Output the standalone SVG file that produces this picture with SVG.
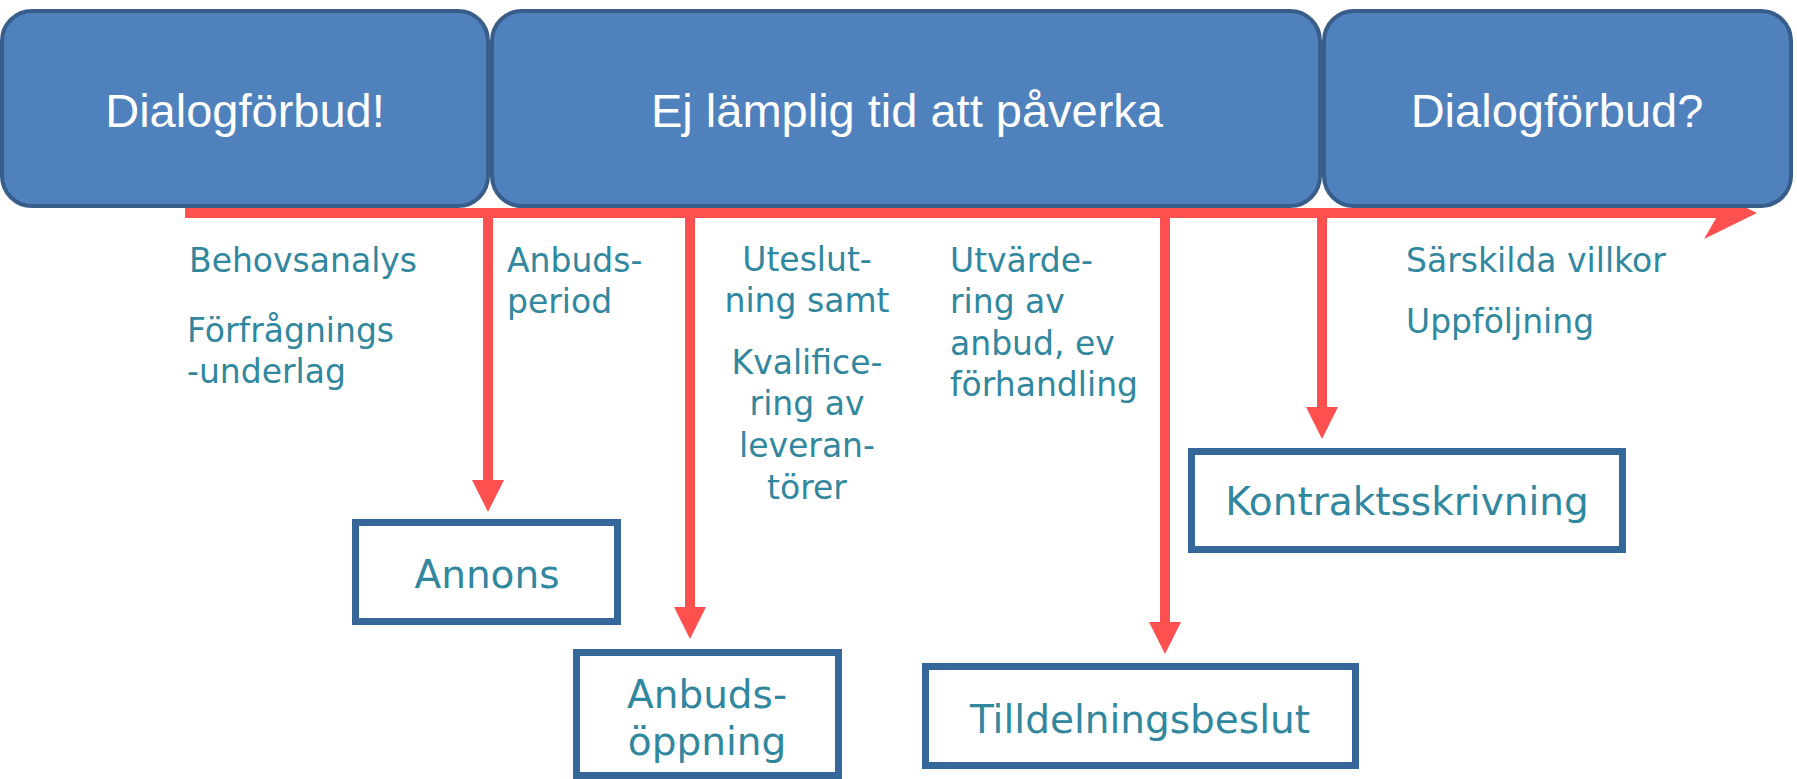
<svg xmlns="http://www.w3.org/2000/svg" width="1797" height="779" viewBox="0 0 1797 779">
  <style>
    .phase { fill: #4f81bd; stroke: #385d8a; stroke-width: 4; }
    .phase-text { font-family: "Liberation Sans", Arial, sans-serif; font-size: 47px; fill: #ffffff; text-anchor: middle; }
    .box { fill: #ffffff; stroke: #35679a; stroke-width: 7; }
    .box-text { font-family: "DejaVu Sans", Verdana, sans-serif; font-size: 39px; fill: #31879e; text-anchor: middle; }
    .note { font-family: "DejaVu Sans", Verdana, sans-serif; font-size: 33px; fill: #31879e; }
    .mid { text-anchor: middle; }
    .red { stroke: #ff5050; stroke-width: 10; fill: none; }
    .head { fill: #ff5050; }
  </style>
  <defs>
    <marker id="ah" viewBox="0 0 32 32" refX="0" refY="16" markerWidth="32" markerHeight="32" markerUnits="userSpaceOnUse" orient="auto">
      <polygon points="0,0 32,16 0,32" class="head"/>
    </marker>
  </defs>

  <g id="connectors">
    <line class="red" x1="185" y1="213" x2="1720" y2="213"/>
    <polygon class="head" points="1757,213 1704,239 1719,213 1704,187"/>
    <line class="red" x1="488" y1="208" x2="488" y2="480" marker-end="url(#ah)"/>
    <line class="red" x1="690" y1="208" x2="690" y2="607" marker-end="url(#ah)"/>
    <line class="red" x1="1165" y1="208" x2="1165" y2="622" marker-end="url(#ah)"/>
    <line class="red" x1="1322" y1="208" x2="1322" y2="407" marker-end="url(#ah)"/>
  </g>

  <g id="phase1">
    <rect class="phase" x="2" y="11" width="486" height="195" rx="30" ry="30"/>
    <text class="phase-text" x="245" y="127">Dialogförbud!</text>
  </g>
  <g id="phase2">
    <rect class="phase" x="492" y="11" width="828" height="195" rx="30" ry="30"/>
    <text class="phase-text" x="907" y="127">Ej lämplig tid att påverka</text>
  </g>
  <g id="phase3">
    <rect class="phase" x="1324" y="11" width="467" height="195" rx="30" ry="30"/>
    <text class="phase-text" x="1557" y="127">Dialogförbud?</text>
  </g>

  <g id="notes1">
    <text class="note" x="189" y="272">Behovsanalys</text>
    <text class="note" x="187" y="342">Förfrågnings</text>
    <text class="note" x="187" y="383">-underlag</text>
  </g>
  <g id="notes2">
    <text class="note" x="507" y="272">Anbuds-</text>
    <text class="note" x="507" y="313">period</text>
  </g>
  <g id="notes3">
    <text class="note mid" x="807" y="271">Uteslut-</text>
    <text class="note mid" x="807" y="312">ning samt</text>
    <text class="note mid" x="807" y="374">Kvalifice-</text>
    <text class="note mid" x="807" y="415">ring av</text>
    <text class="note mid" x="807" y="457">leveran-</text>
    <text class="note mid" x="807" y="499">törer</text>
  </g>
  <g id="notes4">
    <text class="note" x="950" y="272">Utvärde-</text>
    <text class="note" x="950" y="313">ring av</text>
    <text class="note" x="950" y="355">anbud, ev</text>
    <text class="note" x="950" y="396">förhandling</text>
  </g>
  <g id="notes5">
    <text class="note" x="1406" y="272">Särskilda villkor</text>
    <text class="note" x="1406" y="333">Uppföljning</text>
  </g>

  <g id="annons">
    <rect class="box" x="355.5" y="522.5" width="262" height="99"/>
    <text class="box-text" x="487" y="588">Annons</text>
  </g>
  <g id="anbudsoppning">
    <rect class="box" x="576.5" y="652.5" width="262" height="123"/>
    <text class="box-text" x="707" y="708">Anbuds-</text>
    <text class="box-text" x="707" y="755">öppning</text>
  </g>
  <g id="tilldelningsbeslut">
    <rect class="box" x="925.5" y="666.5" width="430" height="99"/>
    <text class="box-text" x="1140" y="733">Tilldelningsbeslut</text>
  </g>
  <g id="kontraktsskrivning">
    <rect class="box" x="1191.5" y="451.5" width="431" height="98"/>
    <text class="box-text" x="1407" y="515">Kontraktsskrivning</text>
  </g>
</svg>
